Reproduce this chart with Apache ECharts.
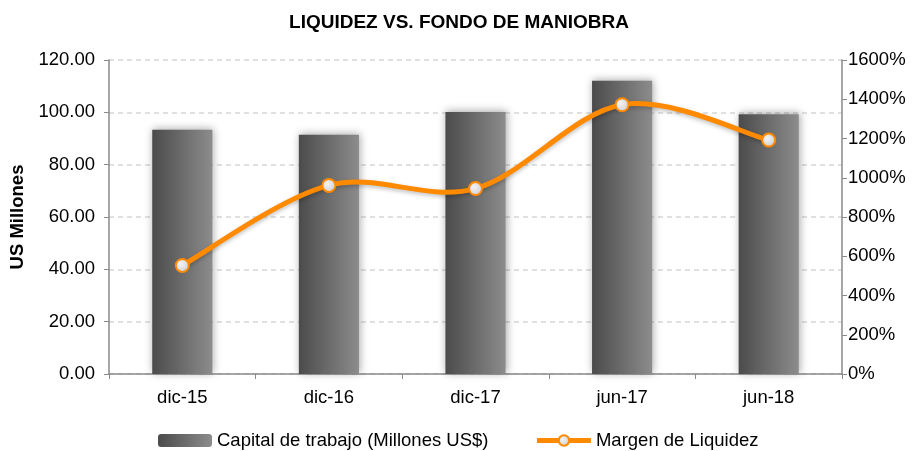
<!DOCTYPE html>
<html>
<head>
<meta charset="utf-8">
<script src="https://cdn.jsdelivr.net/npm/echarts@6/dist/echarts.min.js"></script>
<style>
  html, body { margin: 0; padding: 0; background: #fff; }
  #myChart { width: 918px; height: 451px; }
</style>
</head>
<body>
<div id="myChart"></div>
<script>
// datos
const categories = ['dic-15', 'dic-16', 'dic-17', 'jun-17', 'jun-18'];
const capitalTrabajo = [93.3, 91.4, 100.1, 112.1, 99.3];
const margenLiquidez = [553, 961, 945, 1372, 1192];
const leftTicks = [0, 20, 40, 60, 80, 100, 120];
const rightTicks = [0, 200, 400, 600, 800, 1000, 1200, 1400, 1600];

const font = 'Arial, "Liberation Sans", sans-serif';
const naranja = '#ff8a00';

// curva suavizada tipo Excel (Catmull-Rom), un tramo por punto
function renderCurva(params, api) {
  let i = params.dataIndex;
  let n = margenLiquidez.length;
  if (i >= n - 1) return null;
  let p = k => api.coord([Math.max(0, Math.min(n - 1, k)), margenLiquidez[Math.max(0, Math.min(n - 1, k))]]);
  let p0 = p(i - 1), p1 = p(i), p2 = p(i + 1), p3 = p(i + 2);
  return {
    type: 'bezierCurve',
    shape: {
      x1: p1[0], y1: p1[1],
      x2: p2[0], y2: p2[1],
      cpx1: p1[0] + (p2[0] - p0[0]) / 6,
      cpy1: p1[1] + (p2[1] - p0[1]) / 6,
      cpx2: p2[0] - (p3[0] - p1[0]) / 6,
      cpy2: p2[1] - (p3[1] - p1[1]) / 6
    },
    style: {
      fill: null,
      stroke: naranja,
      lineWidth: 5,
      lineCap: 'round',
      shadowBlur: 4,
      shadowColor: 'rgba(0,0,0,0.25)',
      shadowOffsetY: 2
    }
  };
}

let myChart = echarts.init(document.getElementById('myChart'));
let option = {
  animation: false,
  title: {
    text: 'LIQUIDEZ VS. FONDO DE MANIOBRA',
    left: 'center',
    top: 8,
    textStyle: { fontFamily: font, fontSize: 19, fontWeight: 'bold', color: '#000' }
  },
  legend: {
    left: 158,
    top: 431,
    padding: 0,
    itemWidth: 54,
    itemHeight: 13,
    itemGap: 46,
    textStyle: { fontFamily: font, fontSize: 18.5, color: '#000' },
    data: [
      'Capital de trabajo (Millones US$)',
      { name: 'Margen de Liquidez', lineStyle: { width: 5, color: naranja, opacity: 1 } }
    ]
  },
  grid: { left: 109, right: 76, top: 60, bottom: 77 },
  xAxis: {
    type: 'category',
    data: categories,
    axisLine: { lineStyle: { color: '#8a8a8a', width: 1.5 } },
    axisTick: { show: true, length: 5, lineStyle: { color: '#8a8a8a' } },
    axisLabel: { fontFamily: font, fontSize: 18.5, color: '#000', margin: 14 }
  },
  yAxis: [
    {
      type: 'value',
      min: leftTicks[0],
      max: leftTicks[leftTicks.length - 1],
      interval: 20,
      name: 'US Millones',
      nameLocation: 'middle',
      nameGap: 80,
      nameTextStyle: { fontFamily: font, fontSize: 18.5, fontWeight: 'bold', color: '#000' },
      axisLine: { show: true, lineStyle: { color: '#8a8a8a', width: 1.5 } },
      axisTick: { show: true, length: 5, lineStyle: { color: '#8a8a8a' } },
      axisLabel: { fontFamily: font, fontSize: 18.5, color: '#000', margin: 14,
        formatter: v => v.toFixed(2) },
      splitLine: { lineStyle: { color: '#d6d6d6', type: [5, 4], width: 1.5 } }
    },
    {
      type: 'value',
      min: rightTicks[0],
      max: rightTicks[rightTicks.length - 1],
      interval: 200,
      position: 'right',
      axisLine: { show: true, lineStyle: { color: '#8a8a8a', width: 1.5 } },
      axisTick: { show: true, length: 5, lineStyle: { color: '#8a8a8a' } },
      axisLabel: { fontFamily: font, fontSize: 18.5, color: '#000', margin: 6,
        formatter: v => v + '%' },
      splitLine: { show: false }
    }
  ],
  series: [
    {
      name: 'Capital de trabajo (Millones US$)',
      type: 'bar',
      data: capitalTrabajo,
      barWidth: '41%',
      itemStyle: {
        color: new echarts.graphic.LinearGradient(0, 0, 1, 0, [
          { offset: 0, color: '#4b4b4b' },
          { offset: 1, color: '#8c8c8c' }
        ]),
        shadowBlur: 8,
        shadowColor: 'rgba(0,0,0,0.35)',
        shadowOffsetX: 1,
        shadowOffsetY: -1
      }
    },
    {
      name: 'curva',
      type: 'custom',
      yAxisIndex: 1,
      data: margenLiquidez,
      renderItem: renderCurva,
      z: 4,
      silent: true
    },
    {
      name: 'Margen de Liquidez',
      type: 'line',
      yAxisIndex: 1,
      data: margenLiquidez,
      symbol: 'circle',
      symbolSize: 13,
      z: 5,
      lineStyle: { color: naranja, width: 5, opacity: 0 },
      itemStyle: {
        color: new echarts.graphic.RadialGradient(0.4, 0.4, 0.7, [
          { offset: 0, color: '#f4f4f4' },
          { offset: 1, color: '#c8c8c8' }
        ]),
        borderColor: naranja,
        borderWidth: 2
      }
    }
  ]
};
myChart.setOption(option, true);
</script>
</body>
</html>
